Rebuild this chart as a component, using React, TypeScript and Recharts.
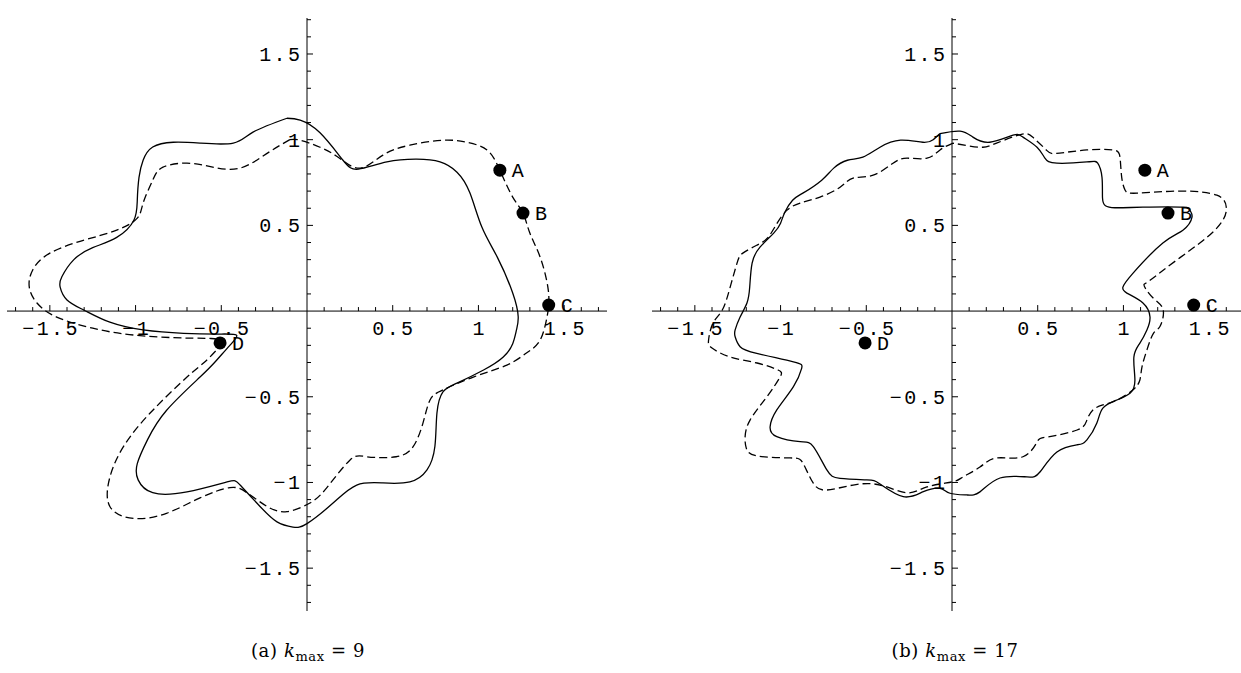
import React from 'react';
import { ComposedChart, Line, Scatter, XAxis, YAxis, ReferenceLine } from 'recharts';

type Pt = [number, number];

// curves, [x, y] in plot units
const solidK9: Pt[] = [
  [-0.117, 1.125], [-0.315, 1.044], [-0.43, 0.98], [-0.624, 0.98], [-0.78, 0.985], [-0.9, 0.957],
  [-0.956, 0.88], [-0.98, 0.78], [-0.99, 0.647], [-1.01, 0.53], [-1.11, 0.43], [-1.25, 0.37],
  [-1.36, 0.3], [-1.43, 0.2], [-1.44, 0.14], [-1.4, 0.065], [-1.3, 0.005], [-1.15, -0.065],
  [-0.956, -0.11], [-0.72, -0.13], [-0.5, -0.134], [-0.41, -0.142], [-0.45, -0.2], [-0.53, -0.29],
  [-0.624, -0.385], [-0.82, -0.58], [-0.93, -0.75], [-0.99, -0.89], [-0.985, -0.985], [-0.9, -1.06],
  [-0.7, -1.055], [-0.466, -0.997], [-0.39, -1.015], [-0.274, -1.14], [-0.175, -1.23], [-0.082, -1.26],
  [0.0, -1.24], [0.152, -1.12], [0.29, -1.015], [0.443, -1.003], [0.6, -0.997], [0.7, -0.927],
  [0.746, -0.79], [0.758, -0.595], [0.793, -0.472], [0.875, -0.42], [1.03, -0.344], [1.145, -0.268],
  [1.2, -0.19], [1.222, -0.11], [1.232, -0.033], [1.2, 0.105], [1.11, 0.315], [1.02, 0.49],
  [0.95, 0.69], [0.875, 0.81], [0.776, 0.87], [0.64, 0.886], [0.466, 0.87], [0.3, 0.828],
  [0.21, 0.88], [0.076, 1.04], [-0.04, 1.114], [-0.117, 1.125],
];

const dashedK9: Pt[] = [
  [-0.1, 1.0], [-0.233, 0.92], [-0.39, 0.834], [-0.55, 0.84], [-0.7, 0.863], [-0.84, 0.84],
  [-0.9, 0.764], [-0.956, 0.63], [-0.99, 0.542], [-1.11, 0.472], [-1.3, 0.414], [-1.5, 0.338],
  [-1.6, 0.24], [-1.62, 0.14], [-1.575, 0.047], [-1.46, -0.035], [-1.25, -0.1], [-1.01, -0.14],
  [-0.72, -0.157], [-0.56, -0.16], [-0.5, -0.18], [-0.53, -0.23], [-0.6, -0.3], [-0.7, -0.385],
  [-0.915, -0.595], [-1.07, -0.79], [-1.15, -0.97], [-1.15, -1.14], [-1.01, -1.21], [-0.82, -1.18],
  [-0.624, -1.09], [-0.45, -1.03], [-0.35, -1.06], [-0.233, -1.14], [-0.117, -1.17], [0.017, -1.12],
  [0.116, -1.03], [0.25, -0.87], [0.35, -0.85], [0.52, -0.85], [0.62, -0.79], [0.676, -0.655],
  [0.717, -0.52], [0.793, -0.46], [0.97, -0.385], [1.166, -0.315], [1.28, -0.245], [1.36, -0.169],
  [1.4, -0.035], [1.41, 0.035], [1.405, 0.14], [1.36, 0.315], [1.3, 0.455], [1.26, 0.572],
  [1.2, 0.665], [1.125, 0.822], [1.05, 0.94], [0.93, 0.985], [0.793, 0.997], [0.6, 0.968],
  [0.443, 0.91], [0.31, 0.834], [0.19, 0.892], [0.076, 0.956], [-0.04, 0.997], [-0.1, 1.0],
];

const solidK17: Pt[] = [
  [-0.07, 1.036], [-0.11, 1.0], [-0.17, 0.985], [-0.3, 0.997], [-0.42, 0.956], [-0.52, 0.898],
  [-0.61, 0.88], [-0.69, 0.834], [-0.76, 0.764], [-0.87, 0.688], [-0.93, 0.647], [-0.975, 0.577],
  [-1.0, 0.513], [-1.04, 0.455], [-1.12, 0.373], [-1.166, 0.28], [-1.18, 0.14], [-1.196, 0.047],
  [-1.236, -0.035], [-1.265, -0.11], [-1.265, -0.15], [-1.236, -0.208], [-1.139, -0.247],
  [-0.925, -0.296], [-0.877, -0.334], [-0.925, -0.441], [-1.022, -0.577], [-1.061, -0.675],
  [-1.022, -0.733], [-0.886, -0.762], [-0.809, -0.791], [-0.73, -0.927], [-0.653, -0.976],
  [-0.497, -0.985], [-0.42, -1.009], [-0.284, -1.083], [-0.167, -1.054], [-0.07, -1.034],
  [-0.012, -1.063], [0.086, -1.073], [0.163, -1.055], [0.28, -0.974], [0.437, -0.968],
  [0.513, -0.939], [0.612, -0.822], [0.73, -0.78], [0.787, -0.752], [0.845, -0.653], [0.88, -0.566],
  [0.962, -0.519], [1.04, -0.478], [1.067, -0.402], [1.061, -0.268], [1.096, -0.187],
  [1.137, -0.11], [1.155, -0.035], [1.114, 0.047], [1.02, 0.105], [0.997, 0.14], [1.055, 0.22],
  [1.23, 0.397], [1.347, 0.472], [1.4, 0.548], [1.388, 0.589], [1.347, 0.606], [1.114, 0.606],
  [0.95, 0.603], [0.895, 0.615], [0.878, 0.66], [0.875, 0.78], [0.85, 0.863], [0.787, 0.87],
  [0.612, 0.863], [0.542, 0.892], [0.496, 0.956], [0.414, 1.015], [0.356, 1.026], [0.22, 0.985],
  [0.122, 1.015], [0.047, 1.05], [-0.07, 1.036],
];

const dashedK17: Pt[] = [
  [0.006, 0.98], [-0.07, 0.94], [-0.146, 0.892], [-0.262, 0.892], [-0.344, 0.863], [-0.46, 0.793],
  [-0.577, 0.776], [-0.653, 0.723], [-0.77, 0.665], [-0.886, 0.63], [-0.962, 0.589], [-1.02, 0.513],
  [-1.073, 0.43], [-1.137, 0.385], [-1.22, 0.338], [-1.254, 0.28], [-1.294, 0.14], [-1.34, 0.006],
  [-1.394, -0.07], [-1.42, -0.169], [-1.4, -0.216], [-1.294, -0.268], [-1.137, -0.303],
  [-1.015, -0.344], [-1.003, -0.385], [-1.08, -0.5], [-1.178, -0.636], [-1.207, -0.735],
  [-1.2, -0.8], [-1.137, -0.845], [-0.945, -0.857], [-0.87, -0.886], [-0.81, -1.003],
  [-0.73, -1.044], [-0.577, -1.015], [-0.42, -1.015], [-0.262, -1.06], [-0.146, -1.026],
  [0.0, -0.997], [0.064, -0.968], [0.163, -0.91], [0.262, -0.857], [0.414, -0.85], [0.496, -0.764],
  [0.554, -0.735], [0.73, -0.694], [0.787, -0.636], [0.822, -0.577], [0.88, -0.548], [0.962, -0.519],
  [1.055, -0.46], [1.096, -0.402], [1.108, -0.327], [1.137, -0.227], [1.175, -0.13], [1.213, -0.09],
  [1.232, 0.006], [1.18, 0.07], [1.13, 0.13], [1.12, 0.155], [1.155, 0.18], [1.31, 0.297],
  [1.487, 0.43], [1.58, 0.53], [1.6, 0.606], [1.545, 0.676], [1.33, 0.7], [1.08, 0.688],
  [1.01, 0.705], [0.99, 0.78], [0.98, 0.898], [0.94, 0.94], [0.787, 0.94], [0.61, 0.92],
  [0.55, 0.94], [0.47, 1.015], [0.4, 1.03], [0.26, 0.98], [0.18, 0.956], [0.09, 0.965], [0.006, 0.98],
];

const markerNames = ['A', 'B', 'C', 'D'];
const markerX = [1.125, 1.26, 1.41, -0.507];
const markerY = [0.822, 0.572, 0.035, -0.186];

const majorTicks = [-1.5, -1, -0.5, 0.5, 1, 1.5];
const majorLabels = ['\u22121.5', '\u22121', '\u22120.5', '0.5', '1', '1.5'];
const minorTicks = [
  -1.7, -1.6, -1.4, -1.3, -1.2, -1.1, -0.9, -0.8, -0.7, -0.6, -0.4, -0.3, -0.2, -0.1,
  0.1, 0.2, 0.3, 0.4, 0.6, 0.7, 0.8, 0.9, 1.1, 1.2, 1.3, 1.4, 1.6, 1.7,
];

const captionTags = ['(a)', '(b)'];
const kmaxValues = [9, 17];

const MONO = '"Liberation Mono", "DejaVu Sans Mono", monospace';
const INK = '#000';

const toRows = (pts: Pt[]) => pts.map(([x, y]) => ({ x, y }));

const xTickRows = [
  ...majorTicks.map((v, i) => ({ x: v, y: 0, major: true, label: majorLabels[i] })),
  ...minorTicks.map((v) => ({ x: v, y: 0, major: false, label: '' })),
];
const yTickRows = [
  ...majorTicks.map((v, i) => ({ x: 0, y: v, major: true, label: majorLabels[i] })),
  ...minorTicks.map((v) => ({ x: 0, y: v, major: false, label: '' })),
];
const markerRows = markerNames.map((name, i) => ({ x: markerX[i], y: markerY[i], name }));

function XTick(props: any) {
  const { cx, cy, payload } = props;
  const len = payload.major ? 6 : 4;
  return (
    <g>
      <line x1={cx} y1={cy} x2={cx} y2={cy - len} stroke={INK} strokeWidth={1} />
      {payload.label ? (
        <text x={cx + 1.2} y={cy + 24} textAnchor="middle" fontFamily={MONO} fontSize={20} letterSpacing={2.4} fill={INK}>
          {payload.label}
        </text>
      ) : null}
    </g>
  );
}

function YTick(props: any) {
  const { cx, cy, payload } = props;
  const len = payload.major ? 6 : 4;
  return (
    <g>
      <line x1={cx} y1={cy} x2={cx + len} y2={cy} stroke={INK} strokeWidth={1} />
      {payload.label ? (
        <text x={cx - 4.6} y={cy + 7} textAnchor="end" fontFamily={MONO} fontSize={20} letterSpacing={2.4} fill={INK}>
          {payload.label}
        </text>
      ) : null}
    </g>
  );
}

function Marker(props: any) {
  const { cx, cy, payload } = props;
  return (
    <g>
      <circle cx={cx} cy={cy} r={6.5} fill={INK} />
      <text x={cx + 12} y={cy + 7} fontFamily={MONO} fontSize={20} fill={INK}>
        {payload.name}
      </text>
    </g>
  );
}

interface PanelProps {
  solid: Pt[];
  dashed: Pt[];
  left: number;
  width: number;
  marginLeft: number;
  marginRight: number;
}

function Panel({ solid, dashed, left, width, marginLeft, marginRight }: PanelProps) {
  return (
    <div style={{ position: 'absolute', left, top: 0 }}>
      <ComposedChart
        width={width}
        height={673}
        margin={{ top: 18, right: marginRight, bottom: 62, left: marginLeft }}
      >
        <XAxis dataKey="x" type="number" domain={[-1.75, 1.75]} allowDataOverflow hide />
        <YAxis dataKey="y" type="number" domain={[-1.75, 1.71]} allowDataOverflow hide />
        <ReferenceLine x={0} stroke={INK} strokeWidth={1} />
        <ReferenceLine y={0} stroke={INK} strokeWidth={1} />
        <Scatter data={xTickRows} shape={XTick} isAnimationActive={false} />
        <Scatter data={yTickRows} shape={YTick} isAnimationActive={false} />
        <Line
          data={toRows(dashed)}
          dataKey="y"
          type="natural"
          stroke={INK}
          strokeWidth={1.3}
          strokeDasharray="8 4"
          dot={false}
          activeDot={false}
          isAnimationActive={false}
        />
        <Line
          data={toRows(solid)}
          dataKey="y"
          type="natural"
          stroke={INK}
          strokeWidth={1.3}
          dot={false}
          activeDot={false}
          isAnimationActive={false}
        />
        <Scatter data={markerRows} shape={Marker} isAnimationActive={false} />
      </ComposedChart>
    </div>
  );
}

function Caption({ tag, k, center }: { tag: string; k: number; center: number }) {
  return (
    <div
      style={{
        position: 'absolute',
        left: center - 150,
        top: 640,
        width: 300,
        textAlign: 'center',
        fontFamily: '"DejaVu Serif", "Liberation Serif", serif',
        fontSize: 18,
        letterSpacing: 0.6,
        color: INK,
        whiteSpace: 'nowrap',
      }}
    >
      {tag} <i>k</i>
      <span style={{ fontSize: 13, position: 'relative', top: 4 }}>max</span> = {k}
    </div>
  );
}

export default function App() {
  return (
    <div
      style={{
        position: 'absolute',
        left: 0,
        top: 0,
        width: 1241,
        height: 673,
        overflow: 'hidden',
        background: '#fff',
      }}
    >
      <Panel solid={solidK9} dashed={dashedK9} left={0} width={620} marginLeft={7} marginRight={13} />
      <Panel solid={solidK17} dashed={dashedK17} left={630} width={640} marginLeft={22} marginRight={18} />
      <Caption tag={captionTags[0]} k={kmaxValues[0]} center={308} />
      <Caption tag={captionTags[1]} k={kmaxValues[1]} center={955} />
    </div>
  );
}
